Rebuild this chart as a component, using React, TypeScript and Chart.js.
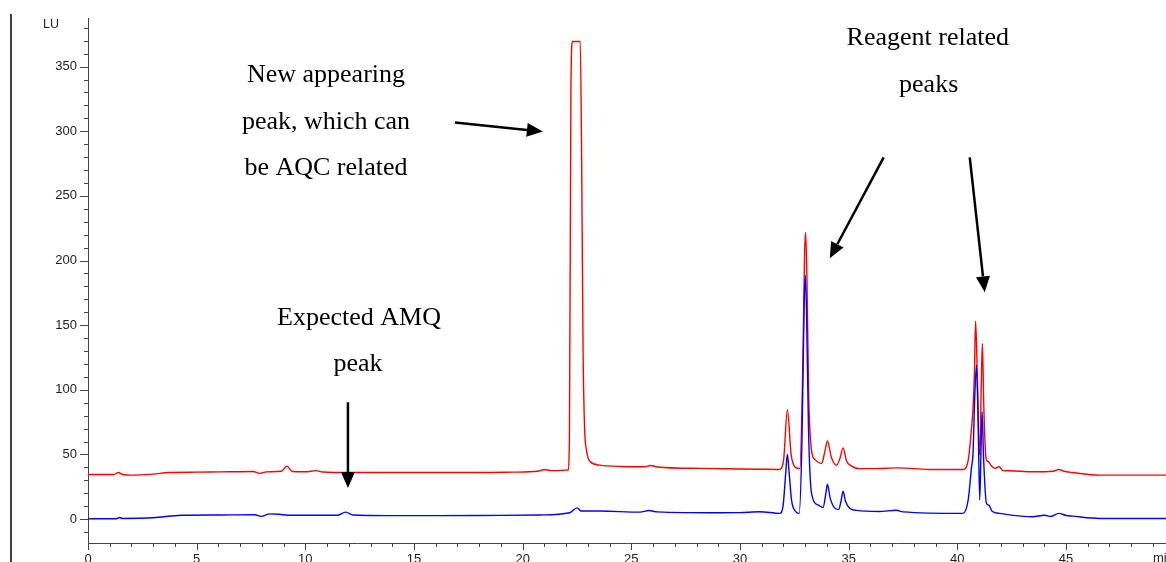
import React, { useEffect, useRef } from "react";
import { Chart, registerables } from "chart.js";

Chart.register(...registerables);

// ---- data ----
const RED_TIME = [
  0, 1.2, 1.4, 1.6, 2.0, 3.0, 3.7, 5, 6, 7.6, 7.9, 8.2, 8.9, 9.15, 9.4, 10.0, 10.5, 10.8, 12, 14, 16, 18,
  19.5, 20.7, 21.0, 21.3, 22.08, 22.15, 22.22, 22.29, 22.65, 22.71, 22.78, 22.85, 22.95, 23.1, 23.55, 24.5,
  25.6, 25.9, 26.2, 28.2, 30.0, 30.9, 31.8, 32.0, 32.18, 32.35, 32.55, 32.75, 32.88, 32.97, 33.02, 33.08,
  33.16, 33.3, 33.45, 33.75, 33.9, 34.02, 34.2, 34.44, 34.6, 34.74, 34.9, 35.13, 35.5, 36.1, 37.3, 38.7,
  40.26, 40.5, 40.65, 40.72, 40.78, 40.84, 40.92, 41.0, 41.04, 41.09, 41.15, 41.22, 41.3, 41.34, 41.44,
  41.55, 41.72, 41.92, 42.1, 42.4, 43.47, 44.4, 44.67, 44.9, 45.3, 46.55, 48, 49.6,
];
const RED_LU = [
  34.5, 34.5, 36, 34.5, 34, 34.8, 36, 36.3, 36.5, 36.8, 35.3, 36.5, 37, 41, 36.8, 36.6, 37.5, 36.4, 36, 36, 36, 36,
  36.3, 37, 38.4, 37.5, 38, 60, 334, 369.4, 369.4, 283, 128, 70, 52, 44.5, 41.7, 40.7,
  40.5, 41.5, 40.3, 39.2, 38.8, 38.6, 38.4, 45, 84.7, 50, 40, 39, 110, 205, 221.8, 185,
  95, 52, 46, 43, 52, 60.5, 48, 41.7, 47, 55.1, 45, 41, 39, 39, 39.6, 38.4,
  38.4, 45.6, 70, 85.5, 110, 153, 110, 55, 49.5, 95, 135.8, 85, 50, 45.6, 44.3,
  41.5, 39.2, 40.5, 37.5, 37.4, 36.6, 37, 38.4, 37, 36, 34, 34, 34,
];

const BLUE_TIME = [
  0, 1.3, 1.45, 1.6, 3.0, 4.3, 6, 7.67, 7.97, 8.36, 8.8, 9.2, 11.5, 11.85, 12.2, 13.8, 16, 18.95, 20.8,
  22.17, 22.5, 22.7, 23.55, 25.4, 25.8, 26.2, 29.07, 30.0, 30.9, 31.83, 31.98, 32.1, 32.18, 32.26, 32.37,
  32.55, 32.72, 32.85, 32.95, 33.0, 33.06, 33.15, 33.29, 33.6, 33.82, 33.95, 34.02, 34.15, 34.4, 34.54,
  34.65, 34.74, 34.85, 35.05, 35.36, 36.4, 37.2, 37.5, 40.26, 40.5, 40.65, 40.72, 40.8, 40.88, 40.95,
  41.03, 41.09, 41.14, 41.2, 41.34, 41.45, 41.6, 41.95, 43.47, 44.0, 44.3, 44.67, 45.0, 45.3, 46.55, 49.6,
];
const BLUE_LU = [
  0.2, 0.3, 1.2, 0.5, 1, 3, 3.2, 3.3, 2.1, 4, 3.7, 3, 3, 5.4, 3.2, 2.7, 2.7, 2.9, 3.2,
  4.9, 8.7, 6.2, 6.2, 5.4, 6.6, 5.6, 4.9, 5, 5.7, 4.4, 10, 35, 50.2, 36, 14.7,
  6, 4.4, 60, 165, 188.6, 160, 70, 20, 10.8, 9, 20, 27, 16, 8, 7.5,
  14, 21.6, 14, 8.3, 6.7, 5.9, 6.8, 5.6, 4.4, 15, 40, 50.7, 95, 119, 80,
  14.7, 55, 83, 50, 12.1, 10.8, 6, 4.4, 1.8, 3, 2, 4.4, 2.8, 2.3, 0.5, 0.5,
];

const X_TICKS = [0, 5, 10, 15, 20, 25, 30, 35, 40, 45];
const Y_TICKS = [0, 50, 100, 150, 200, 250, 300, 350];

// annotations (in data units)
const NOTE_LINES = ["New appearing", "peak, which can", "be AQC related", "Reagent related", "peaks", "Expected AMQ", "peak"];
const NOTE_X = [10.95, 10.95, 10.95, 38.64, 38.68, 12.47, 12.42];
const NOTE_Y = [343.1, 306.8, 271.3, 371.7, 335.4, 155.3, 119.8];

const ARROW_X0 = [16.88, 36.61, 40.57, 11.96];
const ARROW_Y0 = [306.8, 279.8, 279.8, 90.4];
const ARROW_X1 = [20.93, 34.13, 41.26, 11.96];
const ARROW_Y1 = [299.8, 201.7, 175.4, 24];

const decorPlugin = {
  id: "decor",
  afterDraw(chart: any) {
    const ctx = chart.ctx as CanvasRenderingContext2D;
    const xs = chart.scales.x;
    const ys = chart.scales.y;
    const area = chart.chartArea;
    ctx.save();

    // tick marks
    ctx.strokeStyle = "#444";
    ctx.lineWidth = 1;
    ctx.beginPath();
    for (let i = -1; i <= 38; i++) {
      const v = i * 10;
      const py = Math.round(ys.getPixelForValue(v)) + 0.5;
      const len = v % 50 === 0 ? 8 : 4;
      ctx.moveTo(area.left - len, py);
      ctx.lineTo(area.left, py);
    }
    for (let i = 0; i <= 49; i++) {
      const px = Math.round(xs.getPixelForValue(i)) + 0.5;
      const len = i % 5 === 0 ? 7 : 4;
      ctx.moveTo(px, area.bottom);
      ctx.lineTo(px, area.bottom + len);
    }
    ctx.stroke();

    // outer left line
    ctx.strokeStyle = "#000";
    ctx.lineWidth = 1.5;
    ctx.beginPath();
    ctx.moveTo(11, 14);
    ctx.lineTo(11, chart.height);
    ctx.stroke();

    // unit labels
    ctx.fillStyle = "#222";
    ctx.font = "12.5px 'Liberation Sans', Arial, sans-serif";
    ctx.textAlign = "left";
    ctx.textBaseline = "middle";
    ctx.fillText("LU", 43, 25);
    ctx.textBaseline = "top";
    ctx.font = "13px 'Liberation Sans', Arial, sans-serif";
    ctx.fillText("min", 1153, area.bottom + 9);

    // annotation text
    ctx.fillStyle = "#000";
    ctx.font = "26px 'Liberation Serif', 'Times New Roman', serif";
    ctx.textAlign = "center";
    ctx.textBaseline = "middle";
    for (let i = 0; i < NOTE_LINES.length; i++) {
      ctx.fillText(NOTE_LINES[i], xs.getPixelForValue(NOTE_X[i]), ys.getPixelForValue(NOTE_Y[i]));
    }

    // arrows
    for (let i = 0; i < ARROW_X0.length; i++) {
      const x0 = xs.getPixelForValue(ARROW_X0[i]);
      const y0 = ys.getPixelForValue(ARROW_Y0[i]);
      const x1 = xs.getPixelForValue(ARROW_X1[i]);
      const y1 = ys.getPixelForValue(ARROW_Y1[i]);
      const ang = Math.atan2(y1 - y0, x1 - x0);
      const headLen = 16;
      const headHalf = 7;
      const bx = x1 - headLen * Math.cos(ang);
      const by = y1 - headLen * Math.sin(ang);
      ctx.strokeStyle = "#000";
      ctx.lineWidth = 2.5;
      ctx.beginPath();
      ctx.moveTo(x0, y0);
      ctx.lineTo(bx, by);
      ctx.stroke();
      ctx.beginPath();
      ctx.moveTo(x1, y1);
      ctx.lineTo(bx + headHalf * Math.sin(ang), by - headHalf * Math.cos(ang));
      ctx.lineTo(bx - headHalf * Math.sin(ang), by + headHalf * Math.cos(ang));
      ctx.closePath();
      ctx.fillStyle = "#000";
      ctx.fill();
    }
    ctx.restore();
  },
};

export default function App() {
  const ref = useRef<HTMLCanvasElement | null>(null);

  useEffect(() => {
    document.body.style.margin = "0";
    const canvas = ref.current;
    if (!canvas) return;
    const chart = new Chart(canvas, {
      type: "line",
      data: {
        datasets: [
          {
            label: "blue",
            data: BLUE_TIME.map((t, i) => ({ x: t, y: BLUE_LU[i] })),
            borderColor: "#0000ff",
            borderWidth: 1.4,
            pointRadius: 0,
            fill: false,
            cubicInterpolationMode: "monotone",
          },
          {
            label: "red",
            data: RED_TIME.map((t, i) => ({ x: t, y: RED_LU[i] })),
            borderColor: "#ff0000",
            borderWidth: 1.4,
            pointRadius: 0,
            fill: false,
            cubicInterpolationMode: "monotone",
          },
        ],
      },
      options: {
        animation: false,
        responsive: false,
        maintainAspectRatio: false,
        devicePixelRatio: 1,
        layout: { padding: { left: 0, top: 17, right: 0, bottom: 0 } },
        plugins: { legend: { display: false }, tooltip: { enabled: false } },
        scales: {
          x: {
            type: "linear",
            min: 0,
            max: 49.6,
            afterBuildTicks: (scale: any) => {
              scale.ticks = X_TICKS.map((v) => ({ value: v }));
            },
            afterFit: (scale: any) => {
              scale.height = 19;
            },
            grid: { display: true, drawOnChartArea: false, drawTicks: false },
            border: { display: true, color: "#444", width: 1 },
            ticks: {
              autoSkip: false,
              maxRotation: 0,
              padding: 9,
              color: "#222",
              font: { family: "'Liberation Sans', Arial, sans-serif", size: 13 },
            },
          },
          y: {
            type: "linear",
            min: -18.5,
            max: 387,
            afterBuildTicks: (scale: any) => {
              scale.ticks = Y_TICKS.map((v) => ({ value: v }));
            },
            afterFit: (scale: any) => {
              scale.width = 88;
            },
            grid: { display: true, drawOnChartArea: false, drawTicks: false },
            border: { display: true, color: "#444", width: 1 },
            ticks: {
              autoSkip: false,
              padding: 11,
              color: "#222",
              font: { family: "'Liberation Sans', Arial, sans-serif", size: 13 },
            },
          },
        },
      },
      plugins: [decorPlugin],
    });
    return () => chart.destroy();
  }, []);

  return (
    <div style={{ width: 1166, height: 562, background: "#fff" }}>
      <canvas ref={ref} width={1166} height={562} style={{ display: "block" }} />
    </div>
  );
}
